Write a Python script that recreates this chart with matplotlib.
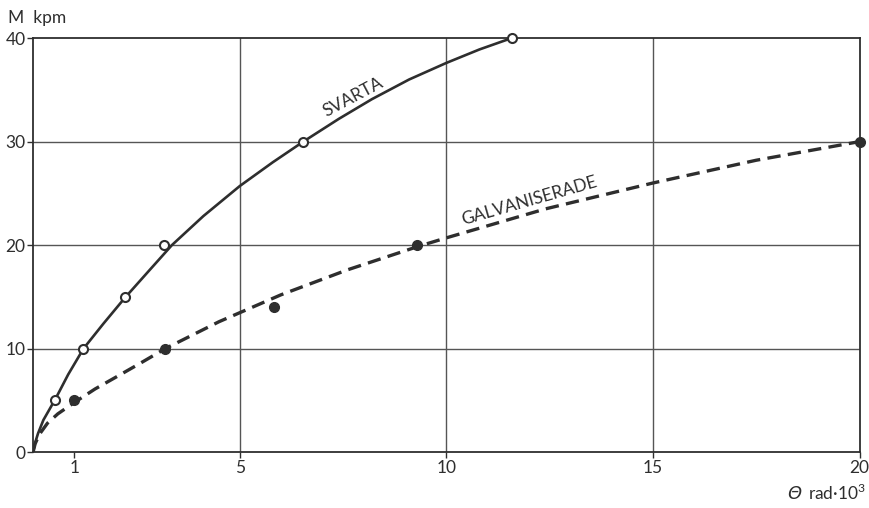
import numpy as np
import matplotlib
matplotlib.use("Agg")
import matplotlib.pyplot as plt

plt.rcParams['font.family'] = ['Lato', 'DejaVu Sans']
plt.rcParams['mathtext.fontset'] = 'custom'
plt.rcParams['mathtext.rm'] = 'Lato'

# mätpunkter, moment M (kpm) mot vridning theta (rad*10^3)
svarta_theta = [0.53, 1.22, 2.22, 3.16, 6.54, 11.58]
svarta_M = [5, 10, 15, 20, 30, 40]
galv_theta = [1.0, 3.2, 5.83, 9.3, 20.0]
galv_M = [5, 10, 14, 20, 30]

# utjämnade kurvor, avlästa punkter längs linjerna
svarta_kurva_theta = [0, 0.05, 0.12, 0.25, 0.55, 0.85, 1.22, 1.7, 2.22, 2.8,
                      3.36, 4.12, 5.0, 5.8, 6.54, 7.4, 8.2, 9.1, 10.0, 10.8, 11.58]
svarta_kurva_M = [0, 0.9, 1.8, 3.1, 5.2, 7.5, 10, 12.4, 14.9, 17.5,
                  20, 22.8, 25.7, 28.0, 30, 32.2, 34.1, 36.0, 37.6, 38.9, 40]
galv_kurva_theta = [0, 0.05, 0.15, 0.35, 0.6, 1.0, 1.5, 2.03, 2.6, 3.2,
                    4.5, 6.0, 7.6, 9.34, 10.0, 12.4, 15.0, 17.5, 20.0]
galv_kurva_M = [0, 0.8, 1.7, 2.8, 3.7, 4.8, 6.1, 7.3, 8.6, 10,
                12.6, 15.2, 17.6, 19.9, 20.7, 23.5, 26.0, 28.2, 30]

x_ticks = [1, 5, 10, 15, 20]
y_ticks = [0, 10, 20, 30, 40]

ink = '#2e2e2e'

fig = plt.figure(figsize=(8.7, 5.08), dpi=100)
ax = fig.add_axes([0.038, 0.110, 0.950, 0.815])

ax.set_xlim(0, 20)
ax.set_ylim(0, 40)
ax.set_xticks(x_ticks)
ax.set_yticks(y_ticks)
ax.tick_params(direction='out', length=4, width=1, colors=ink, labelsize=12.5, pad=1.5)

# rutnät bara vid 5, 10, 15 och 10, 20, 30
for gx in [5, 10, 15]:
    ax.axvline(gx, color='#555555', lw=1.0, zorder=1)
for gy in [10, 20, 30]:
    ax.axhline(gy, color='#555555', lw=1.0, zorder=1)
for s in ax.spines.values():
    s.set_color(ink)
    s.set_linewidth(1.3)

ax.plot(svarta_kurva_theta, svarta_kurva_M, color=ink, lw=1.9,
        solid_capstyle='round', zorder=3)
ax.plot(galv_kurva_theta, galv_kurva_M, color=ink, lw=2.4,
        dashes=(4, 2.2), zorder=3)

ax.plot(svarta_theta, svarta_M, 'o', ms=6.5, mfc='white', mec=ink, mew=1.5,
        zorder=4, clip_on=False)
ax.plot(galv_theta, galv_M, 'o', ms=7, mfc=ink, mec=ink, zorder=4, clip_on=False)

ax.text(7.75, 34.3, 'SVARTA', rotation=28, rotation_mode='anchor',
        ha='center', va='center', fontsize=12.5, color=ink)
ax.text(12.0, 24.3, 'GALVANISERADE', rotation=16, rotation_mode='anchor',
        ha='center', va='center', fontsize=12.5, color=ink)

fig.text(0.009, 0.965, 'M  kpm', fontsize=12.5, color=ink, va='center')
fig.text(0.922, 0.027, 'Θ', fontsize=13, color=ink, ha='right', va='center',
         family='DejaVu Sans', style='italic')
fig.text(0.995, 0.030, r'rad·10$^{3}$', fontsize=12.5, color=ink, ha='right', va='center')

fig.savefig('out.png', dpi=100, facecolor='white')
